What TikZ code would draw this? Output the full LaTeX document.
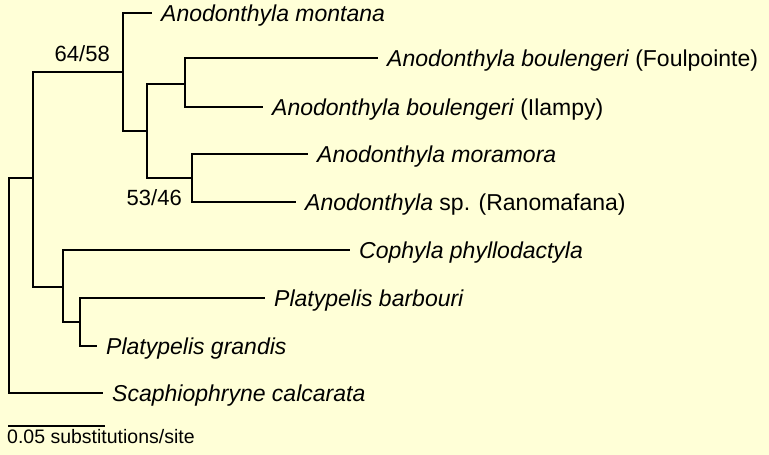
\documentclass[tikz,border=0pt]{standalone}
\usepackage{fontspec}
\setmainfont{Liberation Sans}
\usepackage{xcolor}
\usepackage{tikz}
\usetikzlibrary{positioning,calc}
\definecolor{paper}{RGB}{255,255,215}
\tikzset{
  branch/.style={
    line width=1.3pt,
    draw=black
  },
  taxon/.style={
    anchor=west,
    inner xsep=9pt,
    inner ysep=0pt,
    text height=16.5pt,
    text depth=0pt,
    font=\fontsize{23}{27}\selectfont\itshape
  },
  support/.style={
    inner sep=0pt,
    text height=15.8pt,
    text depth=0pt,
    font=\fontsize{22}{26}\selectfont
  },
  scalelabel/.style={
    inner sep=0pt,
    anchor=base west,
    font=\fontsize{19.5}{23}\selectfont
  }
}

\begin{document}
\begin{tikzpicture}[x=1pt,y=-1pt]
  \fill[paper] (0,0) rectangle (769,455);
  \useasboundingbox (0,0) rectangle (769,455);
  % inner nodes of the tree
  \coordinate (root) at (9,285);
  \coordinate (ingroup) at (33,178);
  \coordinate (anod) at (123,72);
  \coordinate (core) at (147,131);
  \coordinate (boul) at (185,84);
  \coordinate (morsp) at (192,178);
  \coordinate (coph) at (63,287);
  \coordinate (plat) at (80,322);
  % tips
  \node[taxon] (montana) at (152,13) {Anodonthyla montana};
  \node[taxon] (foul) at (378,58) {Anodonthyla boulengeri {\upshape(Foulpointe)}};
  \node[taxon] (ilampy) at (263,107) {Anodonthyla boulengeri {\upshape(Ilampy)}};
  \node[taxon] (moramora) at (308,154) {Anodonthyla moramora};
  \node[taxon] (ranoma) at (296,202) {Anodonthyla {\upshape sp. (Ranomafana)}};
  \node[taxon] (phyllo) at (350,250) {Cophyla phyllodactyla};
  \node[taxon] (barb) at (265,298) {Platypelis barbouri};
  \node[taxon] (grand) at (97,346) {Platypelis grandis};
  \node[taxon] (calc) at (103,393) {Scaphiophryne calcarata};
  % branches
  \draw[branch] (root) |- (ingroup);
  \draw[branch] (root) |- (calc.west);
  \draw[branch] (ingroup) |- (anod);
  \draw[branch] (ingroup) |- (coph);
  \draw[branch] (anod) |- (montana.west);
  \draw[branch] (anod) |- (core);
  \draw[branch] (core) |- (boul);
  \draw[branch] (core) |- (morsp);
  \draw[branch] (boul) |- (foul.west);
  \draw[branch] (boul) |- (ilampy.west);
  \draw[branch] (morsp) |- (moramora.west);
  \draw[branch] (morsp) |- (ranoma.west);
  \draw[branch] (coph) |- (phyllo.west);
  \draw[branch] (coph) |- (plat);
  \draw[branch] (plat) |- (barb.west);
  \draw[branch] (plat) |- (grand.west);
  % bootstrap values
  \node[support, above left=10pt and 13pt of anod] (boot1) {64/58};
  \node[support, below left=11pt and 10pt of morsp] (boot2) {53/46};
  % scale bar
  \coordinate (barl) at (8,426);
  \coordinate (barr) at (105,426);
  \draw[branch] (barl) -- (barr);
  \node[scalelabel] (barlabel) at (7,443) {0.05 substitutions/site};
\end{tikzpicture}
\end{document}
